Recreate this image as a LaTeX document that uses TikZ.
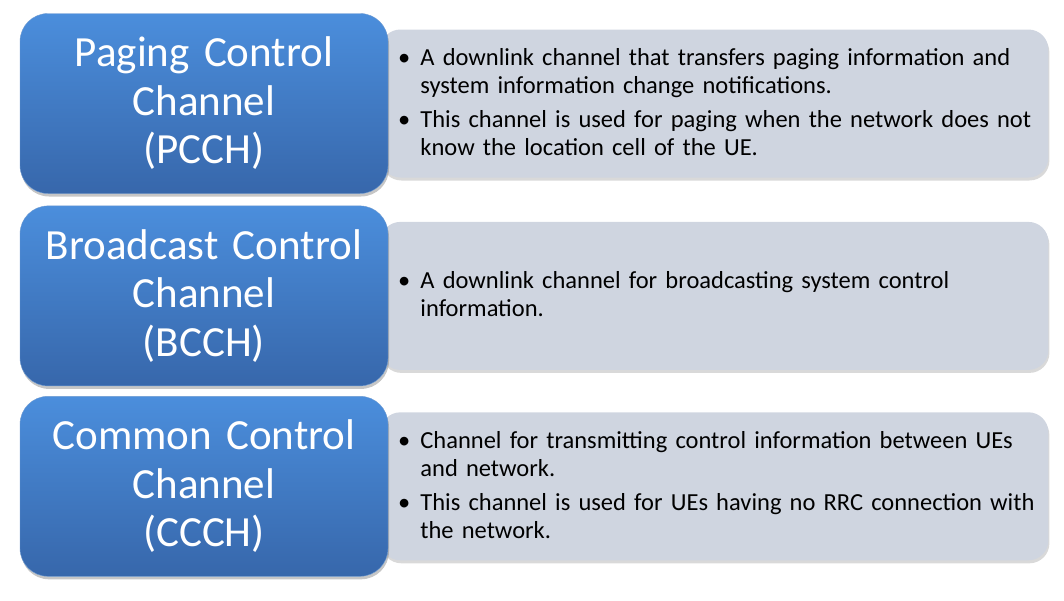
\documentclass[tikz,border=0pt]{standalone}
\usepackage{fontspec}
\setmainfont{Carlito}
\usepackage{enumitem}
\usetikzlibrary{positioning, shadows, backgrounds}
\definecolor{chTop}  {HTML}{4B8EDC}
\definecolor{chBot}  {HTML}{3767AB}
\definecolor{chEdge} {HTML}{6E9BD2}
\definecolor{descBg} {HTML}{CFD5E0}
\setlist[itemize]{leftmargin=31pt, labelsep=10pt, itemsep=6pt,
  topsep=0pt, parsep=0pt, partopsep=0pt}

\begin{document}
\begin{tikzpicture}[x=1pt, y=-1pt,
    chan/.style={draw=chEdge, rounded corners=28pt, top color=chTop,
      bottom color=chBot, minimum width=368pt, minimum height=180pt,
      text width=360pt, align=center, text=white,
      font=\fontsize{43}{48.5}\selectfont,
      drop shadow={shadow xshift=1pt, shadow yshift=-3pt, opacity=0.45}},
    desc/.style={rounded corners=20pt, fill=descBg, minimum width=668pt,
      minimum height=148pt, text width=650pt, inner xsep=9pt,
      font=\fontsize{24.5}{28}\selectfont,
      drop shadow={shadow xshift=1pt, shadow yshift=-3pt, opacity=0.3}}]
  \useasboundingbox (0,0) rectangle (1064,600);

  \node[chan] (pcch) at (204,103.5) {Paging Control\\Channel\\(PCCH)};
  \node[chan, below=12pt of pcch] (bcch) {Broadcast Control\\Channel\\(BCCH)};
  \node[chan, below=10pt of bcch] (ccch) {Common Control\\Channel\\(CCCH)};

  \begin{scope}[on background layer]
    \node[desc, anchor=west] (pcchdesc) at ([xshift=-8pt]pcch.east) {%
      \vspace*{-14pt}
      \begin{itemize}
        \item A downlink channel that transfers paging information and\newline
          system information change notifications.
        \item This channel is used for paging when the network does not\newline
          know the location cell of the UE.
      \end{itemize}};
    \node[desc, anchor=west] (bcchdesc) at ([xshift=-8pt]bcch.east) {%
      \vspace*{-14pt}
      \begin{itemize}
        \item A downlink channel for broadcasting system control\newline
          information.
      \end{itemize}};
    \node[desc, anchor=west] (ccchdesc) at ([xshift=-8pt]ccch.east) {%
      \vspace*{-14pt}
      \begin{itemize}
        \item Channel for transmitting control information between UEs\newline
          and network.
        \item This channel is used for UEs having no RRC connection with\newline
          the network.
      \end{itemize}};
  \end{scope}
\end{tikzpicture}
\end{document}
